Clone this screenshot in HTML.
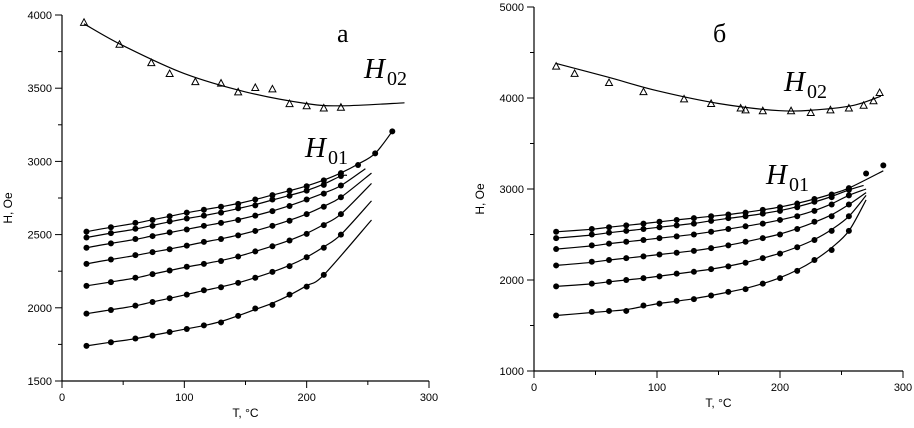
<!DOCTYPE html>
<html><head><meta charset="utf-8"><style>
html,body{margin:0;padding:0;background:#fff;}
svg{display:block;}
.tk{font-family:"Liberation Sans",Arial,sans-serif;font-size:11px;fill:#000;}
.lab{font-family:"Liberation Sans",Arial,sans-serif;font-size:12px;fill:#000;}
.big{font-family:"Liberation Serif",serif;font-size:29px;font-style:italic;fill:#000;}
.sub{font-family:"Liberation Serif",serif;font-size:20px;fill:#000;}
.pl{font-family:"Liberation Serif",serif;font-size:26px;fill:#000;}
</style></head><body>
<svg id="chart" width="914" height="428" viewBox="0 0 914 428" xmlns="http://www.w3.org/2000/svg"></svg>
<script>
// ---- Panel a data ----
const aH02T = [18,47,73,88,109,130,144,158,172,186,200,214,228];
const aH02V = [3950,3800,3675,3600,3545,3535,3475,3505,3495,3395,3380,3365,3370];
const aH02FitT = [18,50,100,150,200,230,280];
const aH02FitV = [3940,3790,3600,3475,3395,3380,3400];
const aT = [20,40,60,74,88,102,116,130,144,158,172,186,200,214,228];
const aS1 = [2520,2550,2580,2600,2625,2650,2670,2690,2710,2740,2770,2800,2830,2870,2920];
const aS2 = [2480,2510,2540,2560,2590,2610,2630,2650,2680,2700,2740,2765,2800,2840,2900];
const aS3 = [2410,2440,2470,2490,2515,2535,2560,2580,2600,2630,2660,2695,2740,2780,2835];
const aS4 = [2300,2330,2360,2380,2400,2425,2450,2470,2495,2525,2560,2595,2640,2690,2755];
const aS5 = [2150,2175,2205,2230,2255,2280,2300,2320,2350,2385,2420,2460,2505,2565,2640];
const aS6 = [1960,1985,2015,2040,2065,2090,2120,2140,2170,2205,2245,2285,2345,2410,2500];
const aS7 = [1740,1765,1790,1810,1835,1855,1880,1900,1945,1995,2020,2090,2145,2225,null];
const aExtraT = [242,256,270];
const aExtraV = [2975,3055,3205];
const aEndT = [270,233,248,253,253,253,253];
const aEndV = [3205,2905,2950,2920,2850,2730,2600];
const aYTicks = [1500,2000,2500,3000,3500,4000];
const aXTicks = [0,100,200,300];

// ---- Panel b data ----
const bH02T = [18,33,61,89,122,144,168,172,186,209,225,241,256,268,276,281];
const bH02V = [4350,4270,4170,4070,3990,3940,3890,3870,3860,3860,3840,3870,3890,3920,3970,4060];
const bH02FitT = [18,60,100,150,200,230,260,282];
const bH02FitV = [4380,4230,4080,3940,3860,3870,3920,4020];
const bT = [18,47,61,75,89,102,116,130,144,158,172,186,200,214,228,242,256];
const bS1 = [2530,2560,2580,2600,2620,2640,2660,2680,2700,2720,2740,2770,2800,2840,2890,2940,3010];
const bS2 = [2460,2500,2520,2540,2560,2580,2600,2620,2650,2680,2700,2730,2760,2800,2860,2910,2990];
const bS3 = [2340,2380,2400,2420,2440,2460,2480,2500,2530,2560,2590,2620,2660,2700,2760,2830,2930];
const bS4 = [2160,2200,2220,2240,2260,2280,2300,2320,2350,2380,2420,2460,2500,2560,2640,2700,2830];
const bS5 = [1930,1960,1980,2000,2020,2040,2070,2090,2120,2150,2190,2240,2290,2360,2440,2540,2700];
const bS6 = [1610,1650,1660,1660,1720,1740,1770,1790,1830,1870,1900,1960,2020,2100,2220,2330,2540];
const bExtraT = [270,284];
const bExtraV = [3170,3260];
const bEndT = [284,268,270,270,270,270];
const bEndV = [3200,3040,3000,2960,2930,2880];
const bYTicks = [1000,2000,3000,4000,5000];
const bXTicks = [0,100,200,300];

const NS = "http://www.w3.org/2000/svg";
const svg = document.getElementById('chart');
function mk(tag, attrs, parent){
  const e = document.createElementNS(NS, tag);
  for (const k in attrs) e.setAttribute(k, attrs[k]);
  (parent||svg).appendChild(e);
  return e;
}
function smooth(pts){
  if (pts.length<2) return '';
  let d = 'M'+pts[0][0].toFixed(1)+','+pts[0][1].toFixed(1);
  for (let i=0;i<pts.length-1;i++){
    const p0=pts[Math.max(0,i-1)], p1=pts[i], p2=pts[i+1], p3=pts[Math.min(pts.length-1,i+2)];
    const c1=[p1[0]+(p2[0]-p0[0])/6, p1[1]+(p2[1]-p0[1])/6];
    const c2=[p2[0]-(p3[0]-p1[0])/6, p2[1]-(p3[1]-p1[1])/6];
    d+=' C'+c1[0].toFixed(1)+','+c1[1].toFixed(1)+' '+c2[0].toFixed(1)+','+c2[1].toFixed(1)+' '+p2[0].toFixed(1)+','+p2[1].toFixed(1);
  }
  return d;
}
// light moving average of interior points (keeps first and last two) to emulate a fitted curve
function relax(pts){
  return pts.map((p,i)=>{
    if (i===0 || i>=pts.length-2) return p;
    return [p[0], (pts[i-1][1]+2*p[1]+pts[i+1][1])/4];
  });
}

function panel(cfg){
  const g = mk('g',{});
  
  
  const sx = t => cfg.x0 + (t-cfg.xmin)/(cfg.xmax-cfg.xmin)*(cfg.x1-cfg.x0);
  const sy = v => cfg.y0 - (v-cfg.ymin)/(cfg.ymax-cfg.ymin)*(cfg.y0-cfg.y1);
  const ax = mk('path',{d:`M${cfg.x0},${cfg.y1} V${cfg.y0} H${cfg.x1}`,fill:'none',stroke:'#000','stroke-width':1.2},g);
  
  
  const ys = cfg.yTicks;
  const ystep = ys[1]-ys[0];
  for (let i=0;i<ys.length;i++){
    const y = sy(ys[i]);
    mk('line',{x1:cfg.x0-7,x2:cfg.x0,y1:y,y2:y,stroke:'#000','stroke-width':1},g);
    const t = mk('text',{x:cfg.x0-10,y:y+4,'text-anchor':'end',class:'tk'},g);
    t.textContent = ys[i];
    
    
    if (i<ys.length-1){ const ym=sy(ys[i]+ystep/2); mk('line',{x1:cfg.x0-4,x2:cfg.x0,y1:ym,y2:ym,stroke:'#000','stroke-width':1},g); }
  }
  const xs = cfg.xTicks;
  const xstep = xs[1]-xs[0];
  for (let i=0;i<xs.length;i++){
    const x = sx(xs[i]);
    mk('line',{x1:x,x2:x,y1:cfg.y0,y2:cfg.y0+7,stroke:'#000','stroke-width':1},g);
    const t = mk('text',{x:x,y:cfg.y0+20,'text-anchor':'middle',class:'tk'},g);
    t.textContent = xs[i];
    
    
    if (i<xs.length-1){ const xm=sx(xs[i]+xstep/2); mk('line',{x1:xm,x2:xm,y1:cfg.y0,y2:cfg.y0+4,stroke:'#000','stroke-width':1},g); }
  }
  const xl = mk('text',{x:(cfg.x0+cfg.x1)/2,y:cfg.y0+36,'text-anchor':'middle',class:'lab'},g);
  xl.textContent='T, °C';
  
  
  const yl = mk('text',{x:0,y:0,'text-anchor':'middle',class:'lab',transform:`translate(${cfg.ylabX},${(cfg.y0+cfg.y1)/2+10}) rotate(-90)`},g);
  yl.textContent='H, Oe';
  
  
  const fitPts = cfg.h02FitT.map((t,i)=>[sx(t),sy(cfg.h02FitV[i])]);
  const h02 = mk('path',{d:smooth(fitPts),fill:'none',stroke:'#000','stroke-width':1.2},g);
  
  
  cfg.h02T.forEach((t,i)=>{
    const x=sx(t), y=sy(cfg.h02V[i]);
    const tri = mk('path',{d:`M${x-3.5},${y+3} L${x+3.5},${y+3} L${x},${y-3.5} Z`,fill:'none',stroke:'#000','stroke-width':1},g);
    
    
  });
  cfg.series.forEach((s,si)=>{
    const pts=[];
    cfg.T.forEach((t,i)=>{ if(s[i]!=null) pts.push([sx(t),sy(s[i])]); });
    const extra = si===0 ? cfg.extraT.map((t,i)=>[sx(t),sy(cfg.extraV[i])]) : [];
    let line = pts.slice();
    if (cfg.extraInLine) line = line.concat(extra);
    line = line.filter(p=>p[0]<sx(cfg.endT[si])-1);
    line.push([sx(cfg.endT[si]),sy(cfg.endV[si])]);
    line = relax(line);
    const p = mk('path',{d:smooth(line),fill:'none',stroke:'#000','stroke-width':1.2},g);
    
    
    pts.concat(extra).forEach(q=>{
      const c = mk('circle',{cx:q[0],cy:q[1],r:3,fill:'#000'},g);
      
      
    });
  });
  const pl = mk('text',{x:cfg.plX,y:cfg.plY,class:'pl'},g);
  pl.textContent = cfg.plText;
  
  
  [[cfg.h02X,cfg.h02Y,'02','h02-label'],[cfg.h01X,cfg.h01Y,'01','h01-label']].forEach(a=>{
    const t = mk('text',{x:a[0],y:a[1]},g);
    
    
    const h = mk('tspan',{class:'big'},t); h.textContent='H';
    const s = mk('tspan',{class:'sub',dx:2,dy:7}); s.textContent=a[2]; t.appendChild(s);
  });
}

panel({name:'panel-a',x0:62,x1:429,y0:381,y1:15,xmin:0,xmax:300,ymin:1500,ymax:4000,
  yTicks:aYTicks,xTicks:aXTicks,ylabX:12,extraInLine:true,
  h02T:aH02T,h02V:aH02V,h02FitT:aH02FitT,h02FitV:aH02FitV,
  T:aT,series:[aS1,aS2,aS3,aS4,aS5,aS6,aS7],extraT:aExtraT,extraV:aExtraV,endT:aEndT,endV:aEndV,
  plX:337,plY:42,plText:'а',h02X:364,h02Y:78,h01X:305,h01Y:157});
panel({name:'panel-b',x0:534,x1:903,y0:371,y1:7,xmin:0,xmax:300,ymin:1000,ymax:5000,
  yTicks:bYTicks,xTicks:bXTicks,ylabX:484,extraInLine:false,
  h02T:bH02T,h02V:bH02V,h02FitT:bH02FitT,h02FitV:bH02FitV,
  T:bT,series:[bS1,bS2,bS3,bS4,bS5,bS6],extraT:bExtraT,extraV:bExtraV,endT:bEndT,endV:bEndV,
  plX:713,plY:42,plText:'б',h02X:784,h02Y:91,h01X:766,h01Y:184});
</script>
</body></html>
